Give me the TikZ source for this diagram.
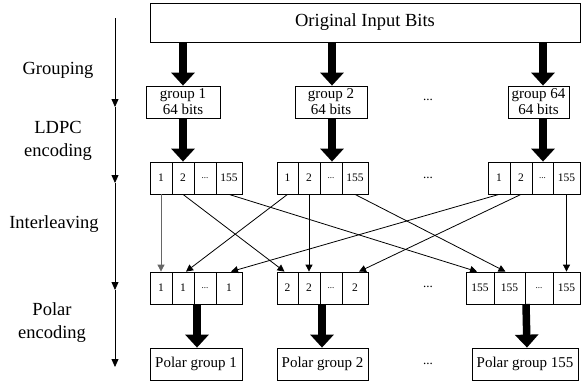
\documentclass[tikz,border=0pt]{standalone}
\usepackage{fontspec}
\setmainfont{Liberation Serif}
\usetikzlibrary{arrows.meta,calc}
\tikzset{
  box/.style={draw=black, line width=0.8pt, inner sep=0pt, align=center},
  cell/.style={box, minimum height=32pt, font=\fontsize{11.5}{13}\selectfont},
  grp/.style={box, minimum height=32pt, font=\fontsize{15}{16}\selectfont},
  lbl/.style={align=center, font=\fontsize{18.5}{23}\selectfont},
  dots/.style={font=\fontsize{13}{14}\selectfont},
  fat/.style={line width=7.5pt, -{Triangle[length=13pt,width=23pt]}},
  thin/.style={line width=0.8pt, -{Triangle[length=7pt,width=7pt]}},
  tl/.style={line width=0.8pt, -{Triangle[length=8pt,width=7pt]}}
}
\newcommand\mkcell[5]{\node[cell, minimum width={#3-#2}] (#1) at ({(#2+#3)/2},#4) {#5};}
\newcommand\mkgrp[6]{\node[grp, minimum width={#3-#2}] (#1) at ({(#2+#3)/2},{(#4+#5)/2}) {#6};}
\newcommand\sdots{{\fontsize{9}{10}\selectfont...}}
\begin{document}
\begin{tikzpicture}[x=1pt,y=-1pt]
\useasboundingbox (0,0) rectangle (581,388);
% top box
\node[box, minimum width=430pt, minimum height=39pt, font=\fontsize{18.5}{22}\selectfont] (top) at (365,22.5) {Original Input Bits};
% timeline
\coordinate (t0) at (115,18);
\coordinate (t1) at (115,107);
\coordinate (t2) at (115,183);
\coordinate (t3) at (115,290);
\coordinate (t4) at (115,367);
\draw[tl] (t0) -- (t1);
\draw[tl] (t1) -- (t2);
\draw[tl] (t2) -- (t3);
\draw[tl] (t3) -- (t4);
% left labels
\node[lbl] (lg) at (58,70) {Grouping};
\node[lbl] (ll) at (58,141) {LDPC\\encoding};
\node[lbl] (li) at (54,224) {Interleaving};
\node[lbl] (lp) at (52,323) {Polar\\encoding};
% group boxes
\mkgrp{g1}{146}{220}{86}{118}{group 1\\64 bits}
\mkgrp{g2}{295}{367}{86}{118}{group 2\\64 bits}
\mkgrp{g3}{508}{569}{86}{118}{group 64\\64 bits}
\node[dots] (d1) at (428,100) {...};
% LDPC rows
\mkcell{l1a}{150}{172}{178}{1}
\mkcell{l1b}{172}{194}{178}{2}
\mkcell{l1c}{194}{216}{178}{\sdots}
\mkcell{l1d}{216}{242}{178}{155}
\mkcell{l2a}{277}{298}{178}{1}
\mkcell{l2b}{298}{320}{178}{2}
\mkcell{l2c}{320}{342}{178}{\sdots}
\mkcell{l2d}{342}{368}{178}{155}
\mkcell{l3a}{488}{510}{178}{1}
\mkcell{l3b}{510}{532}{178}{2}
\mkcell{l3c}{532}{553}{178}{\sdots}
\mkcell{l3d}{553}{580}{178}{155}
\node[dots] (d2) at (428,178) {...};
% interleaved rows
\mkcell{m1a}{150}{172}{288}{1}
\mkcell{m1b}{172}{194}{288}{1}
\mkcell{m1c}{194}{216}{288}{\sdots}
\mkcell{m1d}{216}{242}{288}{1}
\mkcell{m2a}{277}{298}{288}{2}
\mkcell{m2b}{298}{320}{288}{2}
\mkcell{m2c}{320}{342}{288}{\sdots}
\mkcell{m2d}{342}{368}{288}{2}
\mkcell{m3a}{466}{494}{288}{155}
\mkcell{m3b}{494}{525}{288}{155}
\mkcell{m3c}{525}{553}{288}{\sdots}
\mkcell{m3d}{553}{580}{288}{155}
\node[dots] (d3) at (428,287) {...};
% polar groups
\mkgrp{p1}{150}{242}{348}{380}{Polar group 1}
\mkgrp{p2}{277}{368}{348}{380}{Polar group 2}
\mkgrp{p3}{472}{578}{348}{380}{Polar group 155}
\node[dots] (d4) at (428,364) {...};
% thick arrows
\coordinate (c1) at (183,0);
\coordinate (c2) at (332,0);
\coordinate (c3) at (543,0);
\draw[fat] (c1 |- top.south) -- (c1 |- g1.north);
\draw[fat] (c2 |- top.south) -- (c2 |- g2.north);
\draw[fat] (c3 |- top.south) -- (c3 |- g3.north);
\draw[fat] (c1 |- g1.south) -- (c1 |- l1b.north);
\draw[fat] (c2 |- g2.south) -- (c2 |- l2d.north);
\draw[fat] (c3 |- g3.south) -- (c3 |- l3c.north);
\coordinate (a1) at (197,304);
\coordinate (a2) at (322,304);
\coordinate (a3) at (526,304);
\draw[fat] (a1) -- (a1 |- p1.north);
\draw[fat] (a2) -- (a2 |- p2.north);
\draw[fat] (a3) -- ([xshift=1pt]a3 |- p3.north);
% thin interleaving arrows
\draw[thin, draw=black!60] (l1a.south) -- (m1a.north);
\draw[thin] (l1b.south) -- ([xshift=-3pt]m2a.north);
\draw[thin] (l1d.south) -- ([xshift=-3pt]m3a.north);
\draw[thin] (l2a.south) -- ([xshift=3pt]m1b.north);
\draw[thin] (l2b.south) -- (m2b.north);
\draw[thin] (l2d.south) -- ([xshift=-4pt]m3b.north);
\draw[thin] (l3a.south) -- ([xshift=2pt]m1d.north);
\draw[thin] (l3b.south) -- ([xshift=4pt]m2d.north);
\draw[thin] (l3d.south) -- (m3d.north);
\end{tikzpicture}
\end{document}
